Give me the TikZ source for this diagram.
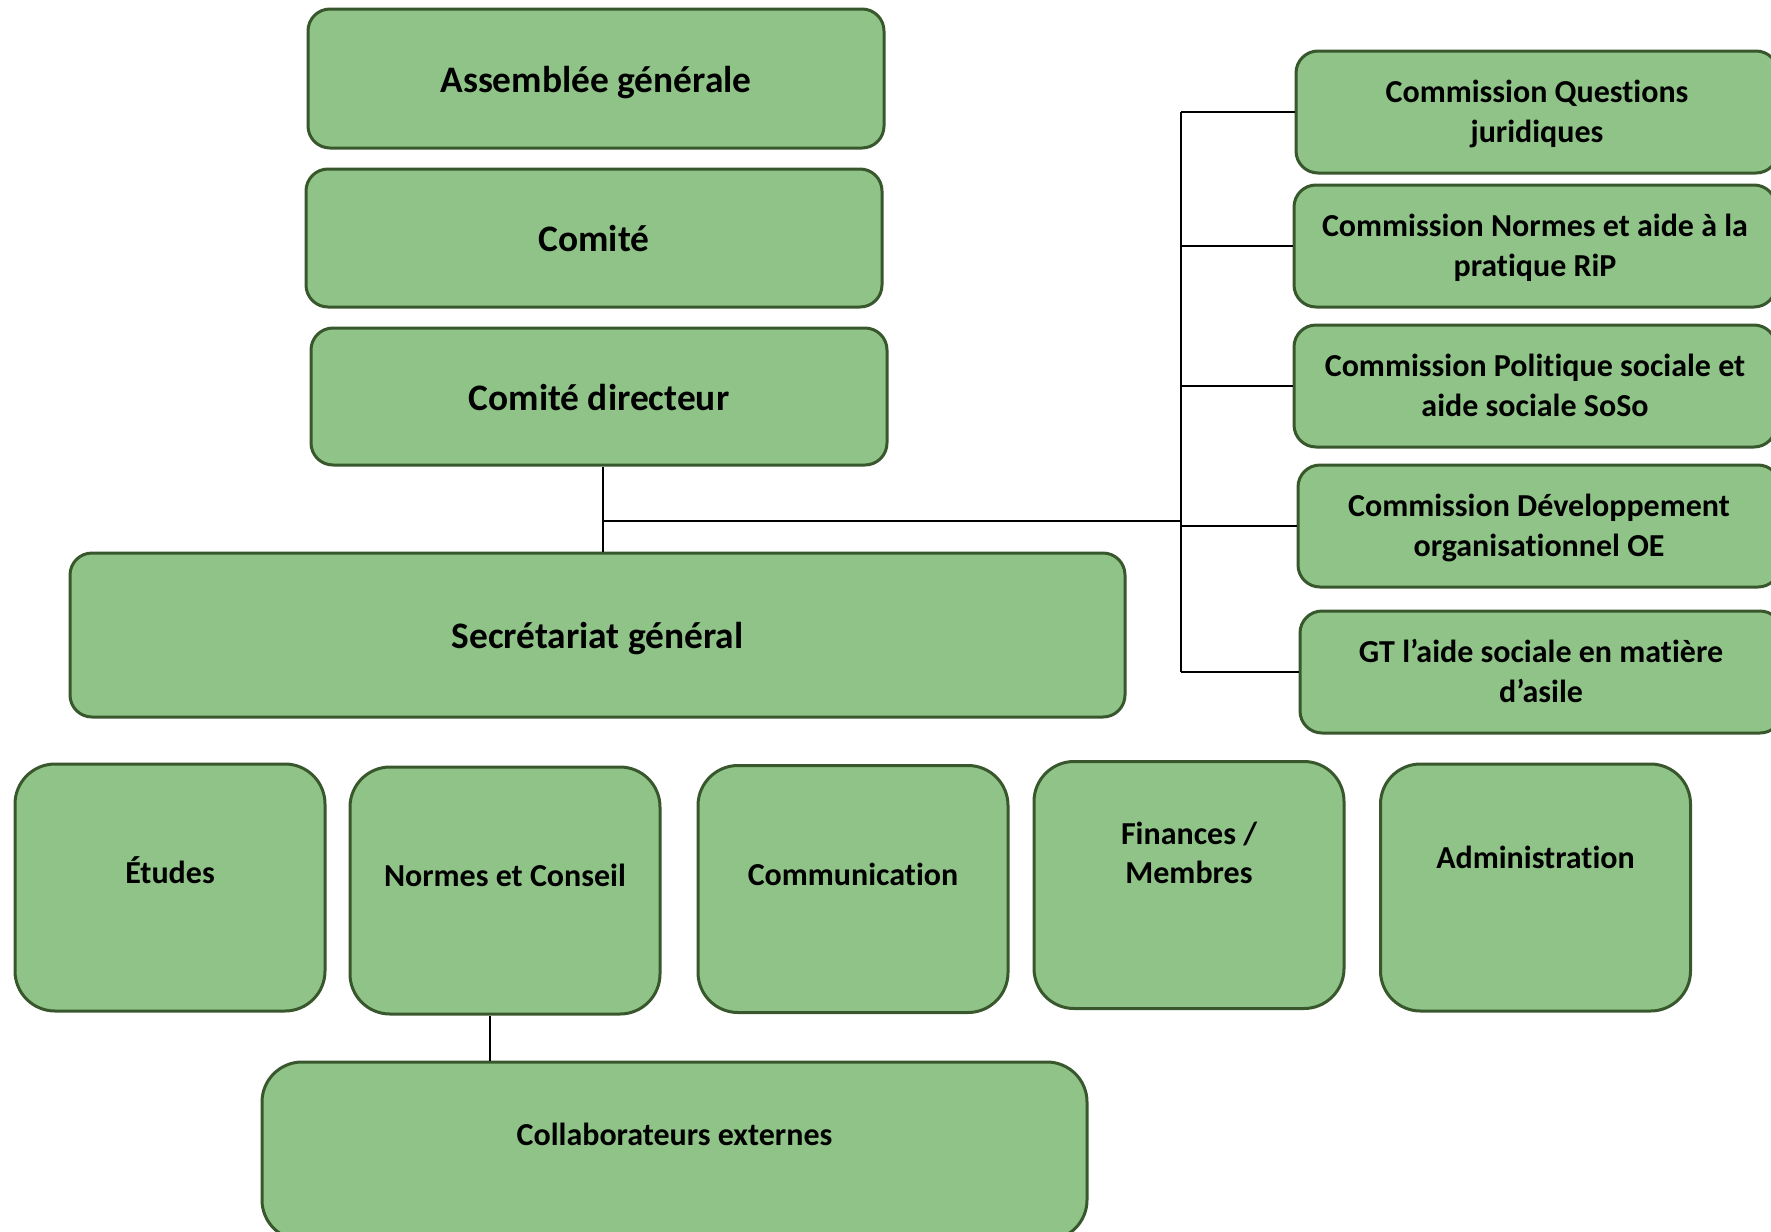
\documentclass[tikz,border=0pt]{standalone}
\usepackage{fontspec}
\setmainfont{Carlito}[Ligatures=NoCommon]
\usetikzlibrary{calc}

\definecolor{boxgreen}{RGB}{143,195,135}
\definecolor{boxedge}{RGB}{56,87,44}

\tikzset{
	box/.style={draw=boxedge, fill=boxgreen, line width=1.5pt, rounded corners=11pt, align=center, font=\fontsize{18.7}{22.8}\selectfont\bfseries, text height=17pt, text depth=3.3pt},
	combox/.style={box, minimum width=241pt, minimum height=61pt, font=\fontsize{16}{19.8}\selectfont\bfseries, text height=31pt, text depth=0.9pt},
	unitbox/.style={box, rounded corners=20pt, minimum width=155pt, minimum height=123.5pt, font=\fontsize{16}{19.8}\selectfont\bfseries, text height=11pt, text depth=#1},
	unitbox/.default=15pt,
	link/.style={line width=0.6pt, black}
}

\begin{document}
\begin{tikzpicture}[x=0.5pt, y=-0.5pt]
			%%%%% START %%%%%
			\useasboundingbox (0,0) rectangle (1771,1231);
			
			\node[box, minimum width=288pt, minimum height=69.5pt] (ag) at (596,78.5) {Assemblée générale};
			\node[box, minimum width=288pt, minimum height=69pt] (comite) at (594,238) {Comité};
			\node[box, minimum width=288pt, minimum height=68.5pt] (cd) at (599,396.5) {Comité directeur};
			\node[box, minimum width=527.5pt, minimum height=82pt] (sg) at (597.5,635) {Secrétariat général};
			
			\node[combox] (qj) at (1537,112) {Commission Questions\\juridiques};
			\node[combox] (rip) at (1535,246) {Commission Normes et aide à la\\pratique RiP};
			\node[combox] (soso) at (1535,386) {Commission Politique sociale et\\aide sociale SoSo};
			\node[combox] (oe) at (1539,526) {Commission Développement\\organisationnel OE};
			\node[combox] (gt) at (1541,672) {GT l’aide sociale en matière\\d’asile};
			
			\node[unitbox] (etudes) at (170,887.5) {Études};
			\node[unitbox] (nc) at (505,890.5) {Normes et Conseil};
			\node[unitbox] (comm) at (853,889) {Communication};
			\node[unitbox=12.2pt] (fin) at (1189,885) {Finances /\\Membres};
			\node[unitbox=30pt] (adm) at (1535.5,887.5) {Administration};
			\node[unitbox=17pt, minimum width=412.5pt, minimum height=89pt] (ext) at (674.5,1151) {Collaborateurs externes};
			
			\coordinate (jn) at (603,521);
			\coordinate (tr) at (1181,521);
			\draw[link] (cd.south -| jn) -- (sg.north -| jn);
			\draw[link] (jn) -- (tr);
			\draw[link] (qj.west -| tr) -- (gt.west -| tr);
			\foreach \c in {qj,rip,soso,oe,gt}
				\draw[link] (\c.west -| tr) -- (\c.west);
			
			\draw[link] (nc.south) ++(-15,0) coordinate (leg) -- (leg |- ext.north);
			%%%%% END %%%%%
\end{tikzpicture}
\end{document}
